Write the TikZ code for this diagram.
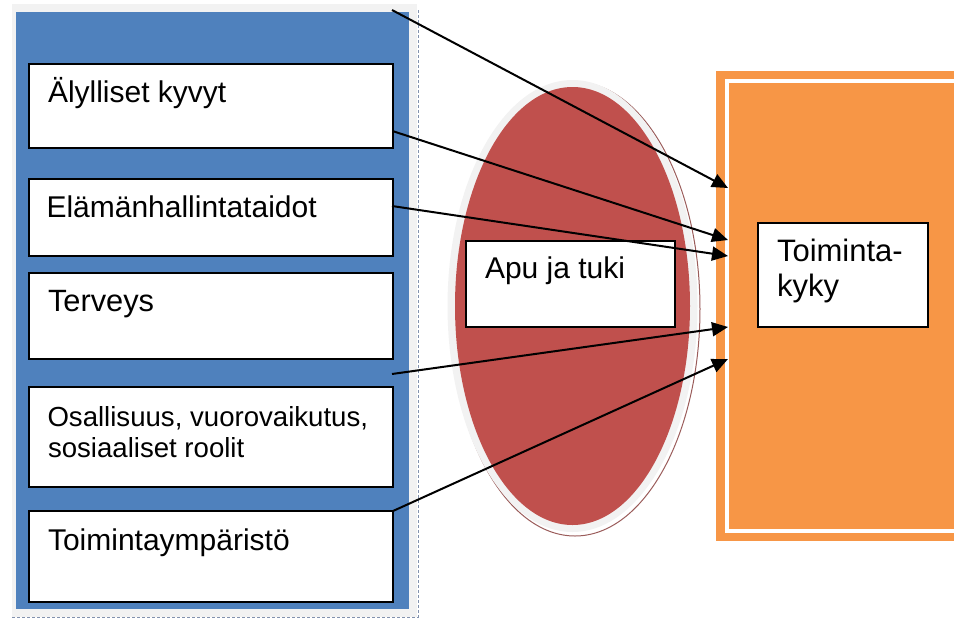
\documentclass[tikz,border=0pt]{standalone}
\usepackage{fontspec}
\setmainfont{Liberation Sans}
\usetikzlibrary{arrows.meta,calc}
\definecolor{panelblue}{HTML}{4F81BD}
\definecolor{panelorange}{HTML}{F79646}
\definecolor{ellred}{HTML}{C0504D}
\definecolor{ringgray}{HTML}{F2F2F2}
\definecolor{hatch}{HTML}{9A5C5A}
\definecolor{dotline}{HTML}{8392AE}
\tikzset{
  txtbox/.style={draw=black, fill=white, line width=2pt, inner sep=0pt, outer sep=0pt, anchor=north west},
  lbl/.style={inner sep=0pt, outer sep=0pt, anchor=base west, font=\fontsize{30}{31}\selectfont},
  smalllbl/.style={lbl, font=\fontsize{27.6}{31}\selectfont},
  conn/.style={draw=black, line width=2pt, -{Triangle[length=16pt,width=14pt]}},
}
\begin{document}
\begin{tikzpicture}[x=1pt,y=-1pt]
\useasboundingbox (0,0) rectangle (954,619);
\clip (0,0) rectangle (954,619);
% left panel
\fill[ringgray] (12,4) rectangle (417,617);
\node[fill=panelblue, inner sep=0pt, outer sep=0pt, minimum width=393pt, minimum height=597pt, anchor=north west] (left) at (16,12) {};
\draw[dotline, line width=1pt, densely dashed] (418,10) -- (418,617) -- (12,617);
% boxes in left panel
\node[txtbox, minimum width=364pt, minimum height=84pt] (b1) at (29,64) {};
\node[txtbox, minimum width=364pt, minimum height=77pt] (b2) at (29,179) {};
\node[txtbox, minimum width=364pt, minimum height=86pt] (b3) at (29,273) {};
\node[txtbox, minimum width=364pt, minimum height=100pt] (b4) at (29,387) {};
\node[txtbox, minimum width=364pt, minimum height=91pt] (b5) at (29,511) {};
\node[lbl] (l1) at (48,102) {Älylliset kyvyt};
\node[lbl] (l2) at (46.5,217) {Elämänhallintataidot};
\node[lbl, font=\fontsize{30.8}{31}\selectfont] (l3) at (48,311) {Terveys};
\node[smalllbl] (l4a) at (47.5,426) {Osallisuus, vuorovaikutus,};
\node[smalllbl] (l4b) at (48,457) {sosiaaliset roolit};
\node[lbl] (l5) at (48,550) {Toimintaympäristö};
% ellipse
\draw[hatch, line width=1pt] (575,309) ellipse [x radius=125, y radius=227];
\fill[ringgray] (572.5,306) ellipse [x radius=125, y radius=226];
\fill[ellred] (572.5,306) ellipse [x radius=117.5, y radius=219];
\node[txtbox, minimum width=209pt, minimum height=86pt] (apu) at (466,241) {};
\node[lbl] (lapu) at (485,278) {Apu ja tuki};
% right panel
\node[fill=panelorange, inner sep=0pt, outer sep=0pt, minimum width=280pt, minimum height=470pt, anchor=north west] (right) at (716,71) {};
\draw[white, line width=4pt] (727,81) rectangle (1000,531);
\node[txtbox, minimum width=170pt, minimum height=104pt] (tk) at (758,223) {};
\node[lbl, font=\fontsize{31}{31}\selectfont] (ltk1) at (777,261) {Toiminta-};
\node[lbl, font=\fontsize{31}{31}\selectfont] (ltk2) at (777,296) {kyky};
% connector end points
\coordinate (s1) at (392,10);
\coordinate (s2) at ($(b1.north east)!0.8!(b1.south east)$);
\coordinate (s3) at (392,206);
\coordinate (s4) at (392,374);
\coordinate (t1) at (728,188);
\coordinate (t2) at (728,240);
\coordinate (t3) at (728,256);
\coordinate (t4) at (728,327);
\coordinate (t5) at (728,359);
\draw[conn] (s1) -- (t1);
\draw[conn] (s2) -- (t2);
\draw[conn] (s3) -- (t3);
\draw[conn] (s4) -- (t4);
\draw[conn] (b5.north east) -- (t5);
\end{tikzpicture}
\end{document}
